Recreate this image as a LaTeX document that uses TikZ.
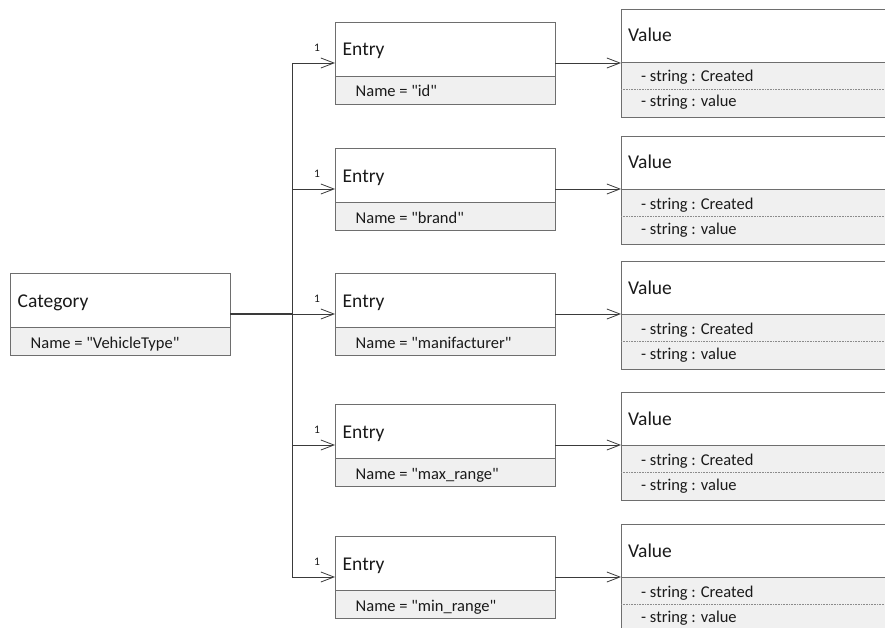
\documentclass[tikz,border=0pt]{standalone}
\usepackage{fontspec}
\setmainfont{Carlito}[Ligatures=TeXOff]
\usetikzlibrary{arrows.meta}

\definecolor{boxgray}{HTML}{6E6E6E}
\definecolor{rowgray}{HTML}{F0F0F0}
\definecolor{linegray}{HTML}{3A3A3A}
\definecolor{inkgray}{HTML}{1A1A1A}

\tikzset{
  classbox/.style={draw=boxgray, line width=0.9bp, fill=white, inner sep=0pt, outer sep=0pt, anchor=north west},
  boxline/.style={draw=boxgray, line width=0.9bp},
  dotline/.style={draw=boxgray!80, line width=0.6bp, dash pattern=on 0.8bp off 0.8bp},
  titletext/.style={font=\fontsize{19.5bp}{22bp}\selectfont, text=inkgray, inner sep=0pt, anchor=base west},
  rowtext/.style={font=\fontsize{16.5bp}{19bp}\selectfont, text=inkgray, inner sep=0pt, anchor=base west},
  multtext/.style={font=\fontsize{11.5bp}{13bp}\selectfont, text=inkgray, inner sep=0pt},
  conn/.style={draw=linegray, line width=0.8bp},
  assoc/.style={conn, -{Straight Barb[length=13bp, width=10bp, line width=0.8bp]}},
}

% class box with a title compartment and a single attribute row
\newcommand\simpleclass[6]{% name, x, y, title, row, width
  \node[classbox, minimum width=#6bp, minimum height=82bp] (#1) at (#2,#3) {};
  \fill[rowgray] ([yshift=-54bp]#1.north west) rectangle (#1.south east);
  \draw[boxline] (#1.north west) rectangle (#1.south east);
  \draw[boxline] ([yshift=-54bp]#1.north west) -- ([yshift=-54bp]#1.north east);
  \node[titletext] at ([xshift=7.5bp, yshift=-34bp]#1.north west) {#4};
  \node[rowtext] at ([xshift=20.5bp, yshift=-75bp]#1.north west) {#5};
}

% value class with two attribute rows separated by a dotted rule
\newcommand\valueclass[3]{% name, x, y
  \node[classbox, minimum width=280bp, minimum height=108bp] (#1) at (#2,#3) {};
  \fill[rowgray] ([yshift=-53bp]#1.north west) rectangle (#1.south east);
  \draw[boxline] (#1.north west) rectangle (#1.south east);
  \draw[boxline] ([yshift=-53bp]#1.north west) -- ([yshift=-53bp]#1.north east);
  \draw[dotline] ([yshift=-80bp]#1.north west) -- ([yshift=-80bp]#1.north east);
  \node[titletext] at ([xshift=7bp, yshift=-33bp]#1.north west) {Value};
  \node[rowtext] at ([xshift=20bp, yshift=-73bp]#1.north west) {- string : Created};
  \node[rowtext] at ([xshift=20bp, yshift=-98bp]#1.north west) {- string : value};
}

\begin{document}
\begin{tikzpicture}[x=1bp, y=-1bp]
\useasboundingbox (0,0) rectangle (885,628);
\clip (0,0) rectangle (885,628);

% category
\simpleclass{cat}{10}{273}{Category}{Name = "VehicleType"}{220}

% entries
\simpleclass{e1}{335}{22}{Entry}{Name = "id"}{220}
\simpleclass{e2}{335}{148}{Entry}{Name = "brand"}{220}
\simpleclass{e3}{335}{273}{Entry}{Name = "manifacturer"}{220}
\simpleclass{e4}{335}{404}{Entry}{Name = "max\_range"}{220}
\simpleclass{e5}{335}{536}{Entry}{Name = "min\_range"}{220}

% values
\valueclass{v1}{621}{9}
\valueclass{v2}{621}{136}
\valueclass{v3}{621}{261}
\valueclass{v4}{621}{392}
\valueclass{v5}{621}{524}

% shared trunk of the category associations
\coordinate (trunk) at (292,0);
\draw[conn, line width=1.2bp] (cat.east) -- (cat.east -| trunk);
\foreach \e in {e1,e2,e3,e4,e5}{
  \draw[assoc] (cat.east -| trunk) |- (\e.west);
  \node[multtext] at ([xshift=-18bp, yshift=15bp]\e.west) {1};
}

% entry to value associations
\foreach \i in {1,...,5}{
  \draw[assoc] (e\i.east) -- (e\i.east -| v\i.west);
}
\end{tikzpicture}
\end{document}
